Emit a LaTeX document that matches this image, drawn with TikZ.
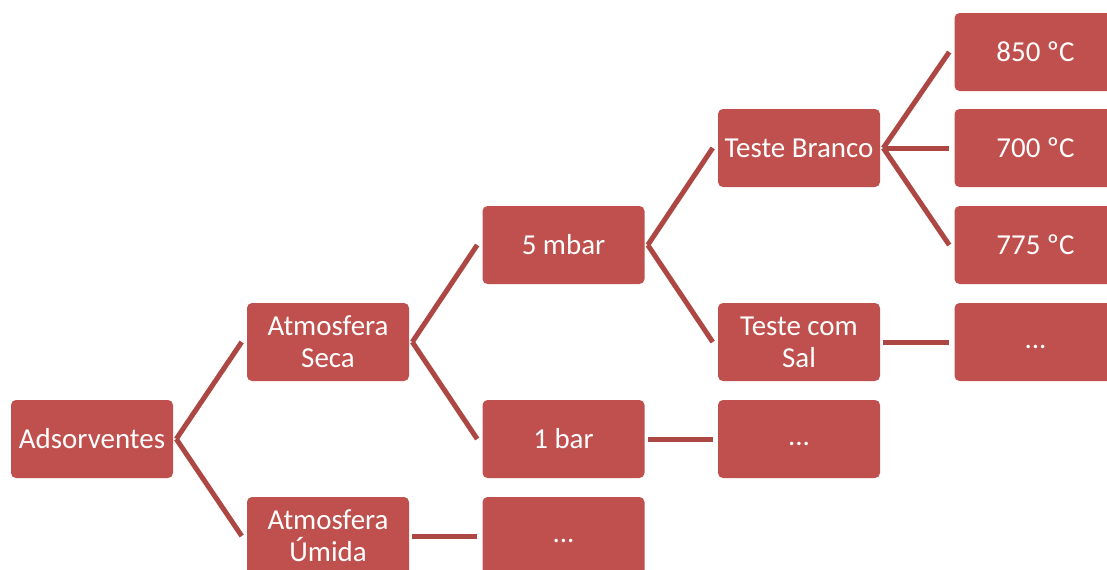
\documentclass[tikz,border=0pt]{standalone}
\usepackage{fontspec}
\setmainfont{Carlito}
\usetikzlibrary{positioning}
\definecolor{boxred}{HTML}{C0504D}
\definecolor{linkred}{HTML}{AD4744}
\tikzset{
    item/.style={rectangle, rounded corners=3.75pt, fill=boxred, text=white, align=center,
        minimum width=121.5pt, minimum height=58.5pt, inner sep=0pt,
        font=\fontsize{21.7}{24}\selectfont}, % caixas do diagrama
    link/.style={draw=linkred, line width=3.75pt} % ligacoes entre caixas
}
\begin{document}
\begin{tikzpicture}[x=0.75pt, y=-0.75pt]
    \useasboundingbox (0,0) rectangle (1107,569);
    \clip (0,0) rectangle (1107,569);

    \node[item] (ads)    at (92,439)    {Adsorventes};
    \node[item] (seca)   at (328,342)   {Atmosfera\\Seca};
    \node[item] (umida)  at (328,536)   {Atmosfera\\Úmida};
    \node[item] (mbar)   at (563.5,245) {5 mbar};
    \node[item] (bar)    at (563.5,439) {1 bar};
    \node[item] (umdots) at (563.5,536) {\strut...};
    \node[item] (branco) at (799,148)   {Teste Branco};
    \node[item] (sal)    at (799,342)   {Teste com\\Sal};
    \node[item] (bardots) at (799,439)  {\strut...};
    \node[item] (t850)   at (1035.5,52)  {850 ºC};
    \node[item] (t700)   at (1035.5,148) {700 ºC};
    \node[item] (t775)   at (1035.5,245) {775 ºC};
    \node[item] (saldots) at (1035.5,342) {\strut...};

    \foreach \a/\b in {ads/seca, ads/umida, seca/mbar, seca/bar, umida/umdots,
        mbar/branco, mbar/sal, bar/bardots, branco/t850, branco/t700, branco/t775, sal/saldots}
        \draw[link] ([xshift=2.25pt]\a.east) -- ([xshift=-3.75pt]\b.west);
\end{tikzpicture}
\end{document}
